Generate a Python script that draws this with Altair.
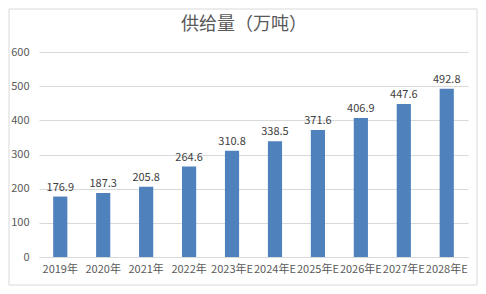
import altair as alt
import pandas as pd

years = ["2019年", "2020年", "2021年", "2022年", "2023年E", "2024年E", "2025年E", "2026年E", "2027年E", "2028年E"]
values = [176.9, 187.3, 205.8, 264.6, 310.8, 338.5, 371.6, 406.9, 447.6, 492.8]
title_text = ["供给量（万吨）"]

df = pd.DataFrame({"year": years, "value": values})
font = "Noto Sans CJK SC"

x = alt.X("year:N", sort=years, title=None,
          scale=alt.Scale(paddingInner=0.67, paddingOuter=0.33),
          axis=alt.Axis(labelAngle=0, labelFontSize=11, labelColor="#595959", labelFont=font,
                        ticks=False, domainColor="#d9d9d9", labelOverlap=False, labelLimit=0,
                        labelPadding=6))
y = alt.Y("value:Q", title=None,
          scale=alt.Scale(domain=[0, 600]),
          axis=alt.Axis(values=[0, 100, 200, 300, 400, 500, 600], labelFontSize=11, labelColor="#595959",
                        labelFont=font, ticks=False, domain=False, gridColor="#d9d9d9", labelPadding=10,
                        labelOverlap=False))

bars = alt.Chart(df).mark_bar(color="#4f81bd").encode(x=x, y=y)
labels = alt.Chart(df).mark_text(dy=-9, fontSize=11, color="#404040", font=font).encode(
    x=x, y=y, text=alt.Text("value:Q", format=".1f"))

border = alt.Chart(pd.DataFrame({"a": [0]})).mark_rect(fill=None, stroke="#d9d9d9", strokeWidth=1, clip=False).encode(
    x=alt.value(-30), x2=alt.value(438), y=alt.value(-43), y2=alt.value(233))

title = alt.Chart(pd.DataFrame({"t": title_text})).mark_text(
    fontSize=18, font=font, color="#595959", clip=False).encode(
    text="t:N", x=alt.value(205), y=alt.value(-27))

chart = alt.layer(border, bars, labels, title).properties(
    width=429, height=205,
    autosize=alt.AutoSizeParams(type="none"),
    padding={"left": 31, "top": 44, "right": 10, "bottom": 29},
).configure_view(stroke=None)

chart.save("out.html", embed_options={"renderer": "svg", "actions": False})
